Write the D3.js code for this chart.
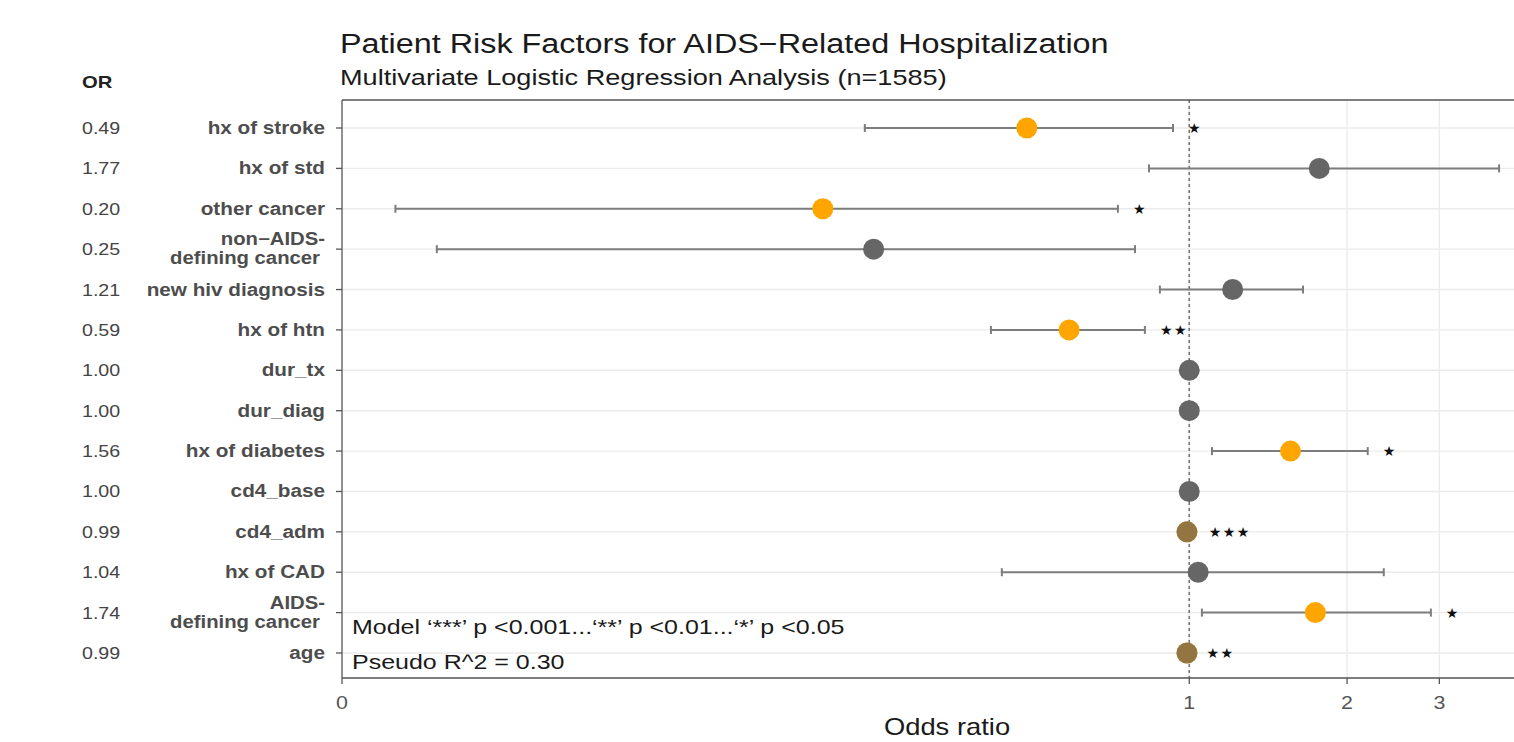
<!DOCTYPE html>
<html><head><meta charset="utf-8">
<script src="https://cdn.jsdelivr.net/npm/d3@7"></script>
<style>body{margin:0;background:#fff;overflow:hidden} text{font-family:"Liberation Sans",Arial,Helvetica,sans-serif}</style>
</head><body><svg id="c" width="1514" height="742"></svg>
<script>
// ---- data ----
const labels = ["hx of stroke","hx of std","other cancer","non\u2212AIDS-\ndefining cancer","new hiv diagnosis","hx of htn","dur_tx","dur_diag","hx of diabetes","cd4_base","cd4_adm","hx of CAD","AIDS-\ndefining cancer","age"];
const orValues = [0.49,1.77,0.20,0.25,1.21,0.59,1.00,1.00,1.56,1.00,0.99,1.04,1.74,0.99];
const orLabels = ["0.49","1.77","0.20","0.25","1.21","0.59","1.00","1.00","1.56","1.00","0.99","1.04","1.74","0.99"];
const ciLow  = [0.2405,0.838,0.0306,0.0367,0.879,0.4185,0.99,0.99,1.105,0.99,0.985,0.439,1.057,0.98];
const ciHigh = [0.931,3.90,0.731,0.788,1.648,0.823,1.01,1.01,2.19,1.01,1.02,2.35,2.89,1.01];
const stars  = ["*","","*","","","**","","","*","","***","","*","**"];
const xTickValues = [0.0242,1,2,3];
const xTickLabels = ["0","1","2","3"];
const xDomain = [0.0242,4.92];
const title = "Patient Risk Factors for AIDS\u2212Related Hospitalization";
const subtitle = "Multivariate Logistic Regression Analysis (n=1585)";
const note1 = "Model \u2018***\u2019 p <0.001...\u2018**\u2019 p <0.01...\u2018*\u2019 p <0.05";
const note2 = "Pseudo R^2 = 0.30";
const xTitle = "Odds ratio";
const orHeader = "OR";

// ---- layout ----
const SX = 1.19; // horizontal text stretch of the reference
const P = {left:342, right:1552, top:100, bottom:678};
const svg = d3.select("#c");
const x = d3.scaleLog().domain(xDomain).range([P.left,P.right]);
const y = d3.scalePoint().domain(labels).range([128,653]);
const rows = labels.map((l,i)=>({label:l, or:orValues[i], orl:orLabels[i], lo:ciLow[i], hi:ciHigh[i], s:stars[i]}));
const R = 10.5;

function txt(g, px, py, str, o){
  const t = g.append("text").attr("transform",`translate(${px},${py}) scale(${o.sx||SX},1)`)
    .attr("text-anchor",o.anchor||"start").attr("font-size",o.size)
    .attr("font-weight",o.weight||"normal").attr("fill",o.fill||"#222").text(str);
  if(o.family) t.style("font-family",o.family);
  if(o.ls) t.attr("letter-spacing",o.ls);
  return t;
}

// gridlines
const grid = svg.append("g");
grid.selectAll("line.h").data(rows).join("line")
  .attr("x1",P.left).attr("x2",P.right).attr("y1",d=>y(d.label)).attr("y2",d=>y(d.label))
  .attr("stroke","#ebebeb").attr("stroke-width",1.4);
grid.selectAll("line.v").data(xTickValues.slice(1)).join("line")
  .attr("x1",d=>x(d)).attr("x2",d=>x(d)).attr("y1",P.top).attr("y2",P.bottom)
  .attr("stroke","#ebebeb").attr("stroke-width",1.4);

// reference line at OR = 1
svg.append("line").attr("x1",x(1)).attr("x2",x(1)).attr("y1",P.top).attr("y2",P.bottom)
  .attr("stroke","#777").attr("stroke-width",1.6).attr("stroke-dasharray","3,3");

// error bars
const eb = svg.append("g").attr("stroke","#7d7d7d").attr("stroke-width",2);
rows.forEach(d=>{
  const yy = y(d.label);
  eb.append("line").attr("x1",x(d.lo)).attr("x2",x(d.hi)).attr("y1",yy).attr("y2",yy);
  [d.lo,d.hi].forEach(v=>eb.append("line").attr("x1",x(v)).attr("x2",x(v)).attr("y1",yy-4).attr("y2",yy+4));
});

// points
rows.forEach(d=>{
  const yy = y(d.label), sig = d.s!=="";
  svg.append("circle").attr("cx",x(d.or)).attr("cy",yy).attr("r",R).attr("fill",sig?"#FFA500":"#666666");
  if(sig && (x(d.hi)-x(d.lo)) < 2*R){
    svg.append("circle").attr("cx",x(d.or)).attr("cy",yy).attr("r",R).attr("fill","#5e5e5e").attr("opacity",0.68);
  }
});

// significance stars
rows.filter(d=>d.s!=="").forEach(d=>{
  txt(svg, x(d.hi)+15, y(d.label)+5, d.s.replace(/\*/g,"\u2605"), {size:14, fill:"#111", family:"DejaVu Sans", ls:1.5, sx:1});
});

// panel border / axes
const ax = svg.append("g").attr("stroke","#555").attr("stroke-width",1.3);
ax.append("line").attr("x1",P.left).attr("x2",P.right).attr("y1",P.top).attr("y2",P.top);
ax.append("line").attr("x1",P.left).attr("x2",P.right).attr("y1",P.bottom).attr("y2",P.bottom);
ax.append("line").attr("x1",P.left).attr("x2",P.left).attr("y1",P.top).attr("y2",P.bottom);
rows.forEach(d=>ax.append("line").attr("x1",P.left-6).attr("x2",P.left).attr("y1",y(d.label)).attr("y2",y(d.label)));
xTickValues.forEach(v=>ax.append("line").attr("x1",x(v)).attr("x2",x(v)).attr("y1",P.bottom).attr("y2",P.bottom+6));

// x tick labels
xTickValues.forEach((v,i)=>txt(svg, x(v), 709, xTickLabels[i], {size:18, fill:"#555", anchor:"middle"}));

// y labels
rows.forEach(d=>{
  const yy = y(d.label);
  const lines = d.label.split("\n");
  if(lines.length===1){
    txt(svg, 325, yy+6, lines[0], {size:18.5, weight:"bold", fill:"#4d4d4d", anchor:"end", sx:1.12});
  } else {
    txt(svg, 325, yy-4, lines[0], {size:17.5, weight:"bold", fill:"#4d4d4d", anchor:"end", sx:1.16});
    txt(svg, 320, yy+15, lines[1], {size:17.5, weight:"bold", fill:"#4d4d4d", anchor:"end", sx:1.16});
  }
  txt(svg, 82, yy+6, d.orl, {size:16.5, fill:"#444"});
});
txt(svg, 82, 88, orHeader, {size:17, weight:"bold", fill:"#222"});

// titles
txt(svg, 340, 53, title, {size:27.2, fill:"#1a1a1a"});
txt(svg, 340, 85, subtitle, {size:22.8, fill:"#1a1a1a"});
txt(svg, (P.left+P.right)/2, 735, xTitle, {size:23, fill:"#1a1a1a", anchor:"middle"});

// annotations
txt(svg, 352, 634, note1, {size:21, fill:"#1a1a1a"});
txt(svg, 352, 669, note2, {size:21, fill:"#1a1a1a"});
</script></body></html>
